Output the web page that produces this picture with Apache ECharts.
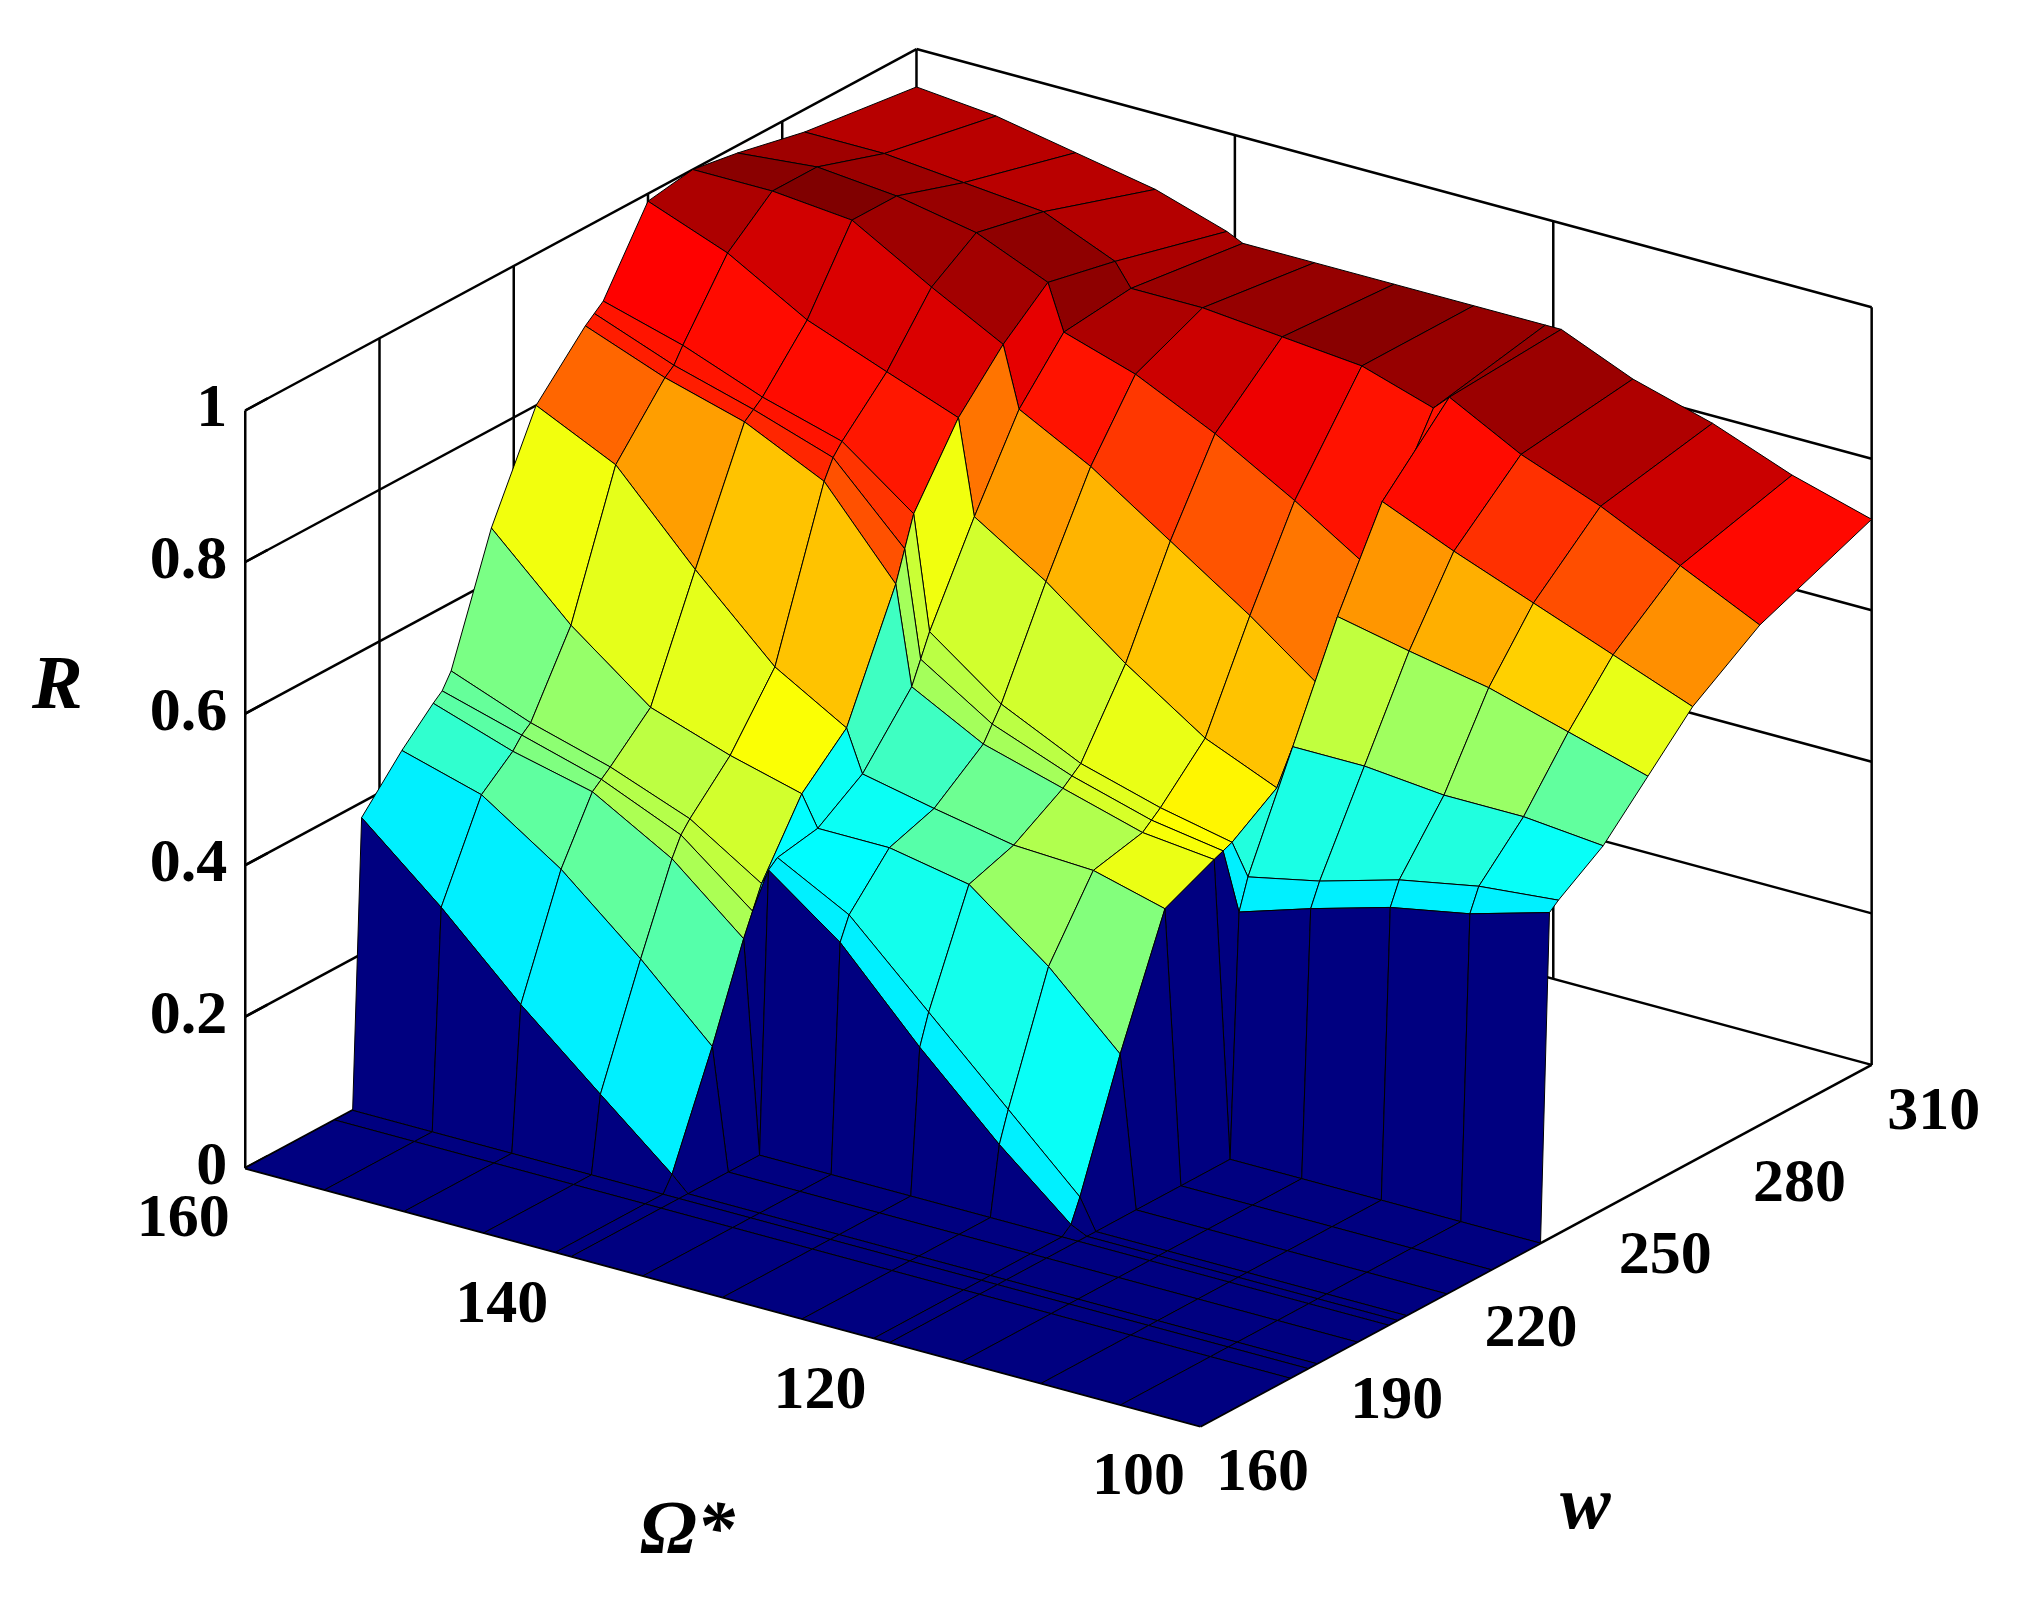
<!DOCTYPE html>
<html><head><meta charset="utf-8">
<script src="https://cdn.jsdelivr.net/npm/echarts@6/dist/echarts.min.js"></script>
<style>html,body{margin:0;padding:0;background:#fff}#c{width:2024px;height:1604px}</style>
</head><body><div id="c"></div>
<script>
// Ω* grid rows (duplicated near-equal rows make the cliffs between lobes)
const omegaVals = [160,155,150,145,140.5,139.5,135,130,125,120.5,119.5,115,110,105,100];
// w grid columns
const wVals = [160,180,184,186,195,202,204,206,215,225,236,238,240,250,260,270,285,310];
// R values, one row per Ω*
const R160 = [0,0,0,0.38,0.44,0.48,0.49,0.51,0.67,0.80,0.87,0.88,0.89,0.99,1.0,0.99,0.97,0.95];
const R155 = [0,0,0,0.29,0.41,0.445,0.46,0.47,0.57,0.75,0.83,0.84,0.86,0.95,1.0,1.0,0.97,0.94];
const R150 = [0,0,0,0.19,0.34,0.42,0.43,0.44,0.49,0.64,0.80,0.81,0.82,0.89,0.99,0.99,0.96,0.92];
const R145 = [0,0,0,0.10,0.25,0.36,0.385,0.40,0.455,0.54,0.75,0.775,0.79,0.85,0.93,0.97,0.95,0.90];
const R1405 = [0,0,0,0.02,0.16,0.28,0.31,0.34,0.43,0.485,0.64,0.68,0.72,0.815,0.88,0.93,0.91,0.87];
const R1395 = [0,0,0,0,0,0,0.37,0.38,0.39,0.43,0.51,0.54,0.57,0.69,0.80,0.87,0.88,0.86];
const R135 = [0,0,0,0,0,0,0.30,0.33,0.39,0.41,0.46,0.48,0.50,0.63,0.75,0.84,0.88,0.86];
const R130 = [0,0,0,0,0,0,0.19,0.23,0.37,0.39,0.43,0.44,0.45,0.55,0.68,0.79,0.87,0.86];
const R125 = [0,0,0,0,0,0,0.09,0.13,0.29,0.385,0.40,0.41,0.42,0.48,0.61,0.73,0.86,0.86];
const R1205 = [0,0,0,0,0,0,0.01,0.04,0.20,0.36,0.39,0.395,0.40,0.44,0.54,0.67,0.83,0.86];
const R1195 = [0,0,0,0,0,0,0,0,0,0,0,0.32,0.36,0.50,0.64,0.76,0.85,0.86];
const R115 = [0,0,0,0,0,0,0,0,0,0,0,0.35,0.38,0.50,0.62,0.72,0.80,0.82];
const R110 = [0,0,0,0,0,0,0,0,0,0,0,0.38,0.41,0.49,0.60,0.68,0.76,0.79];
const R105 = [0,0,0,0,0,0,0,0,0,0,0,0.40,0.43,0.49,0.57,0.64,0.71,0.75];
const R100 = [0,0,0,0,0,0,0,0,0,0,0,0.43,0.44,0.48,0.54,0.60,0.66,0.72];
const rRows = [R160,R155,R150,R145,R1405,R1395,R135,R130,R125,R1205,R1195,R115,R110,R105,R100];
const zTicks = [0,0.2,0.4,0.6,0.8,1];
const zTickLabels = ['0','0.2','0.4','0.6','0.8','1'];
const omegaTicks = [160,140,120,100];
const wTicks = [160,190,220,250,280,310];

const S = 2024/1568;
function proj(o, w, z){
  return [(190 + (160-o)*12.333 + (w-160)*3.4667)*S,
          (905 + (160-o)*3.333 - (w-160)*1.8667 - 587*z)*S];
}
function jet(v){
  v = Math.max(0, Math.min(1, v));
  const f = t => Math.max(0, Math.min(1, t));
  const r = f(1.5 - Math.abs(4*v - 3)), g = f(1.5 - Math.abs(4*v - 2)), b = f(1.5 - Math.abs(4*v - 1));
  return 'rgb(' + Math.round(r*255) + ',' + Math.round(g*255) + ',' + Math.round(b*255) + ')';
}
// colour index per grid node: progress along each row's rise (cyan at the first step, dark red at the top)
const cRows = rRows.map(row=>{
  const nz = row.filter(v=>v>0); const st = Math.min(...nz), mx = Math.max(...nz);
  return row.map(v => v<=0 ? 0 : 0.36 + 0.64*(v-st)/(mx-st));
});
const quads = [];
for (let i=0;i<omegaVals.length-1;i++) for (let j=0;j<wVals.length-1;j++){
  const oc=(omegaVals[i]+omegaVals[i+1])/2, wc=(wVals[j]+wVals[j+1])/2;
  quads.push([i,j,(oc-100)/60 + (wc-160)/150]);
}
quads.sort((a,b)=>b[2]-a[2]);

const lines = [];
function L(a,b,wd){ lines.push([a,b,wd||2.5]); }
for (const z of zTicks){
  L([160,160,z],[160,310,z]);
  L([160,310,z],[100,310,z]);
}
L([160,160,0],[160,160,1]);
for (const w of [190,220,250,280,310]) L([160,w,0],[160,w,1]);
for (const o of [140,120,100]) L([o,310,0],[o,310,1]);
L([160,160,0],[100,160,0]);
L([100,160,0],[100,310,0]);
for (const z of zTicks) L([160,160,z],[160,165,z]);

const chart = echarts.init(document.getElementById('c'), null, {renderer:'canvas'});
const fontFam = '"Liberation Serif","DejaVu Serif",serif';
function coordOf(api,p){ return api.coord(proj(p[0],p[1],p[2])); }
chart.setOption({
  animation:false,
  backgroundColor:'#fff',
  grid:{left:0,right:0,top:0,bottom:0},
  xAxis:{type:'value',min:0,max:2024,show:false},
  yAxis:{type:'value',min:0,max:1604,inverse:true,show:false},
  series:[
    { type:'custom', data: lines.map((l,k)=>[k]), z:1,
      renderItem:(params,api)=>{
        const l = lines[params.dataIndex];
        const a=coordOf(api,l[0]), b=coordOf(api,l[1]);
        return {type:'line',shape:{x1:a[0],y1:a[1],x2:b[0],y2:b[1]},style:{stroke:'#000',lineWidth:l[2]}};
      }},
    { type:'custom', data: quads.map(q=>[q[0],q[1]]), z:2,
      renderItem:(params,api)=>{
        const q = quads[params.dataIndex], i=q[0], j=q[1];
        const c = [[i,j],[i,j+1],[i+1,j+1],[i+1,j]];
        const pts = c.map(([a,b])=>api.coord(proj(omegaVals[a],wVals[b],rRows[a][b])));
        const v = Math.min(...c.map(([a,b])=>cRows[a][b]));
        return {type:'polygon',shape:{points:pts},style:{fill:jet(v),stroke:'#000',lineWidth:1}};
      }},
    { type:'custom', z:3,
      data: zTicks.map((z,k)=>[k]),
      renderItem:(params,api)=>{
        const k=params.dataIndex, p=coordOf(api,[160,160,zTicks[k]]);
        return {type:'text',x:p[0]-18,y:p[1],style:{text:zTickLabels[k],font:'bold 62px '+fontFam,fill:'#000',align:'right',verticalAlign:'middle'}};
      }},
    { type:'custom', z:3,
      data: omegaTicks.map((o,k)=>[k]),
      renderItem:(params,api)=>{
        const p=coordOf(api,[omegaTicks[params.dataIndex],160,0]);
        return {type:'text',x:p[0]-62,y:p[1]+52,style:{text:String(omegaTicks[params.dataIndex]),font:'bold 62px '+fontFam,fill:'#000',align:'center',verticalAlign:'middle'}};
      }},
    { type:'custom', z:3,
      data: wTicks.map((o,k)=>[k]),
      renderItem:(params,api)=>{
        const p=coordOf(api,[100,wTicks[params.dataIndex],0]);
        return {type:'text',x:p[0]+62,y:p[1]+48,style:{text:String(wTicks[params.dataIndex]),font:'bold 62px '+fontFam,fill:'#000',align:'center',verticalAlign:'middle'}};
      }}
  ],
  graphic:[
    {type:'text',left:32,top:650,style:{text:'R',font:'italic bold 76px '+fontFam,fill:'#000'}},
    {type:'text',left:640,top:1495,style:{text:'Ω*',font:'italic bold 76px '+fontFam,fill:'#000'}},
    {type:'text',left:1560,top:1470,style:{text:'w',font:'italic bold 76px '+fontFam,fill:'#000'}}
  ]
});
</script></body></html>
